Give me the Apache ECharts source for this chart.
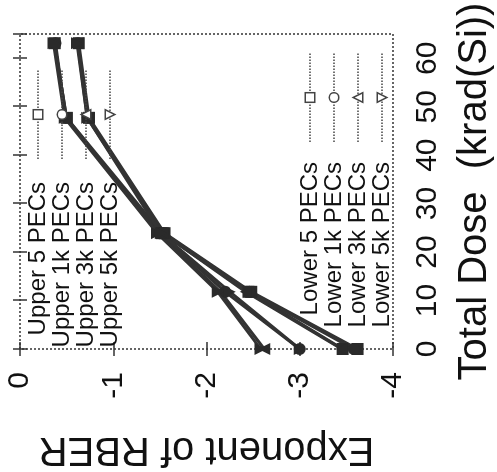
<!DOCTYPE html>
<html><head><meta charset="utf-8">
<script src="https://cdn.jsdelivr.net/npm/echarts@6/dist/echarts.min.js"></script>
<style>
html,body{margin:0;padding:0;background:#fff;overflow:hidden;width:497px;height:472px;}
#wrap{position:absolute;left:0;top:0;width:472px;height:497px;transform-origin:0 0;transform:translateY(472px) rotate(-90deg);}
</style></head><body>
<div id="wrap"></div>
<script>
// Total dose (krad(Si)) at which RBER was measured
const doses = [0, 11.8, 23.9, 47.7, 63.1];
const upperNames = ['Upper 5 PECs', 'Upper 1k PECs', 'Upper 3k PECs', 'Upper 5k PECs'];
const lowerNames = ['Lower 5 PECs', 'Lower 1k PECs', 'Lower 3k PECs', 'Lower 5k PECs'];
// Exponent of RBER
const upper5  = [-3.46, -2.45, -1.52, -0.50, -0.37];
const upper1k = [-3.00, -2.20, -1.50, -0.49, -0.38];
const upper3k = [-2.62, -2.15, -1.48, -0.50, -0.37];
const upper5k = [-2.58, -2.12, -1.47, -0.48, -0.36];
const lower5  = [-3.62, -2.48, -1.55, -0.74, -0.63];
const lower1k = [-3.58, -2.46, -1.54, -0.73, -0.62];
const lower3k = [-3.45, -2.42, -1.53, -0.72, -0.62];
const lower5k = [-3.00, -2.25, -1.51, -0.72, -0.61];
const xTicks = [0, 10, 20, 30, 40, 50, 60];
const yTicks = [-4, -3, -2, -1, 0];

const FONT = '"Liberation Sans", Arial, Helvetica, sans-serif';
const symbols = ['rect', 'circle', 'triangle', 'path://M0,0 L10,0 L5,10 Z'];
const allNames = upperNames.concat(lowerNames);
const allVals = [upper5, upper1k, upper3k, upper5k, lower5, lower1k, lower3k, lower5k];

const series = allVals.map((vals, i) => ({
  name: allNames[i],
  type: 'line',
  data: doses.map((d, j) => [d, vals[j]]),
  symbol: symbols[i % 4],
  symbolSize: 12,
  lineStyle: {color: '#333', width: 3},
  itemStyle: {color: '#2a2a2a'},
  emphasis: {disabled: true},
  animation: false,
  z: 3
}));

function legendCfg(names, left, top, pad) {
  return {
    data: names,
    orient: 'vertical',
    left: left, top: top,
    align: 'right',
    itemWidth: 89, itemHeight: 12, itemGap: 0,
    selectedMode: false,
    formatter: n => '{t|' + n + '}',
    textStyle: {rich: {t: {width: 172, align: 'right', fontSize: 24, lineHeight: 20,
      fontFamily: FONT, color: '#111', padding: [0, pad, 0, 0]}}},
    itemStyle: {color: '#fff', borderColor: '#444', borderWidth: 1.5},
    lineStyle: {type: 'dotted', width: 1.5, color: '#444'}
  };
}

const axCommon = {
  type: 'value',
  splitLine: {show: false},
  axisLine: {show: false},
  axisTick: {show: true, inside: true, length: 7, lineStyle: {color: '#333', width: 1.5}}
};

const chart = echarts.init(document.getElementById('wrap'), null, {renderer: 'canvas', width: 472, height: 497});
chart.setOption({
  animation: false,
  backgroundColor: '#fff',
  grid: {left: 123, right: 34, top: 20, bottom: 104, show: true, borderColor: '#333', borderWidth: 1.5, borderType: [2, 2],
    containLabel: false, outerBoundsMode: 'none'},
  legend: [legendCfg(upperNames, 113, 21, 18), legendCfg(lowerNames, 133, 293, 15)],
  xAxis: [
    Object.assign({}, axCommon, {
      position: 'bottom', min: xTicks[0], max: 65, interval: 10,
      axisLabel: {fontSize: 30, margin: 20, color: '#111', fontFamily: FONT,
        formatter: v => xTicks.includes(v) ? String(v) : ''},
      name: 'Total Dose  (krad(Si))', nameLocation: 'middle', nameGap: 62,
      nameTextStyle: {fontSize: 40, color: '#111', fontFamily: FONT}
    }),
    Object.assign({}, axCommon, {position: 'top', min: 0, max: 65, interval: 10, axisLabel: {show: false}})
  ],
  yAxis: [
    Object.assign({}, axCommon, {
      position: 'left', min: yTicks[0], max: yTicks[yTicks.length - 1], interval: 1,
      axisLabel: {fontSize: 30, margin: 23, color: '#111', fontFamily: FONT},
      name: 'Exponent of RBER', nameLocation: 'middle', nameGap: 80,
      nameTextStyle: {fontSize: 40, color: '#111', fontFamily: FONT}
    }),
    Object.assign({}, axCommon, {position: 'right', min: -4, max: 0, interval: 1, axisLabel: {show: false}})
  ],
  series: series
});
</script>
</body></html>
